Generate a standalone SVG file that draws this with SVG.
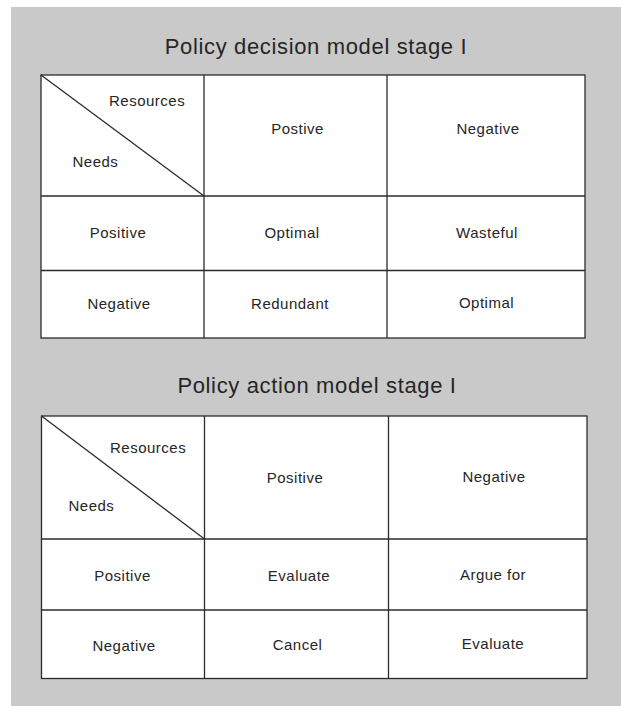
<svg xmlns="http://www.w3.org/2000/svg" width="621" height="706" viewBox="0 0 621 706">
  <style>
    .grid { fill: none; stroke: #2b2b2b; stroke-width: 1.3; }
    .cell { fill: #ffffff; }
    .title { font-family: "Liberation Sans", Arial, Helvetica, sans-serif; font-size: 22px; letter-spacing: 0.65px; fill: #262626; text-anchor: middle; }
    .lbl { font-family: "Liberation Sans", Arial, Helvetica, sans-serif; font-size: 15px; letter-spacing: 0.5px; fill: #262626; text-anchor: middle; }
    .lbl-l { text-anchor: start; }
  </style>

  <!-- page background -->
  <rect x="0" y="0" width="621" height="706" fill="#ffffff"/>
  <rect x="11" y="7" width="610" height="699" fill="#c9c9c9"/>

  <!-- Table 1: decision model -->
  <g id="decision-model">
    <text class="title" x="316" y="54">Policy decision model stage I</text>
    <rect class="cell" x="41" y="75" width="544" height="263"/>
    <g id="dm-grid">
      <rect class="grid" x="41" y="75" width="544" height="263"/>
      <line class="grid" x1="204" y1="75" x2="204" y2="338"/>
      <line class="grid" x1="387" y1="75" x2="387" y2="338"/>
      <line class="grid" x1="41" y1="196" x2="585" y2="196"/>
      <line class="grid" x1="41" y1="270.5" x2="585" y2="270.5"/>
    </g>
    <g id="dm-corner">
      <line class="grid" x1="41" y1="75" x2="204" y2="196"/>
      <text class="lbl lbl-l" x="109" y="106">Resources</text>
      <text class="lbl lbl-l" x="72.5" y="167">Needs</text>
    </g>
    <g id="dm-res-pos"><text class="lbl" x="297.5" y="134">Postive</text></g>
    <g id="dm-res-neg"><text class="lbl" x="488" y="133.5">Negative</text></g>
    <g id="dm-need-pos"><text class="lbl" x="118" y="238">Positive</text></g>
    <g id="dm-need-neg"><text class="lbl" x="119" y="309">Negative</text></g>
    <g id="dm-pos-pos"><text class="lbl" x="292" y="238">Optimal</text></g>
    <g id="dm-pos-neg"><text class="lbl" x="487" y="237.5">Wasteful</text></g>
    <g id="dm-neg-pos"><text class="lbl" x="290" y="308.5">Redundant</text></g>
    <g id="dm-neg-neg"><text class="lbl" x="486.5" y="307.5">Optimal</text></g>
  </g>

  <!-- Table 2: action model -->
  <g id="action-model">
    <text class="title" x="317" y="393">Policy action model stage I</text>
    <rect class="cell" x="41.5" y="416" width="545.5" height="262.5"/>
    <g id="am-grid">
      <rect class="grid" x="41.5" y="416" width="545.5" height="262.5"/>
      <line class="grid" x1="204.5" y1="416" x2="204.5" y2="678.5"/>
      <line class="grid" x1="388.5" y1="416" x2="388.5" y2="678.5"/>
      <line class="grid" x1="41.5" y1="539" x2="587" y2="539"/>
      <line class="grid" x1="41.5" y1="610" x2="587" y2="610"/>
    </g>
    <g id="am-corner">
      <line class="grid" x1="41.5" y1="416" x2="204.5" y2="539"/>
      <text class="lbl lbl-l" x="110" y="452.5">Resources</text>
      <text class="lbl lbl-l" x="68.5" y="511">Needs</text>
    </g>
    <g id="am-res-pos"><text class="lbl" x="295" y="482.5">Positive</text></g>
    <g id="am-res-neg"><text class="lbl" x="494" y="482">Negative</text></g>
    <g id="am-need-pos"><text class="lbl" x="122.5" y="581">Positive</text></g>
    <g id="am-need-neg"><text class="lbl" x="124" y="650.5">Negative</text></g>
    <g id="am-pos-pos"><text class="lbl" x="299" y="580.5">Evaluate</text></g>
    <g id="am-pos-neg"><text class="lbl" x="493" y="580">Argue for</text></g>
    <g id="am-neg-pos"><text class="lbl" x="297.5" y="649.5">Cancel</text></g>
    <g id="am-neg-neg"><text class="lbl" x="493" y="648.5">Evaluate</text></g>
  </g>
</svg>
